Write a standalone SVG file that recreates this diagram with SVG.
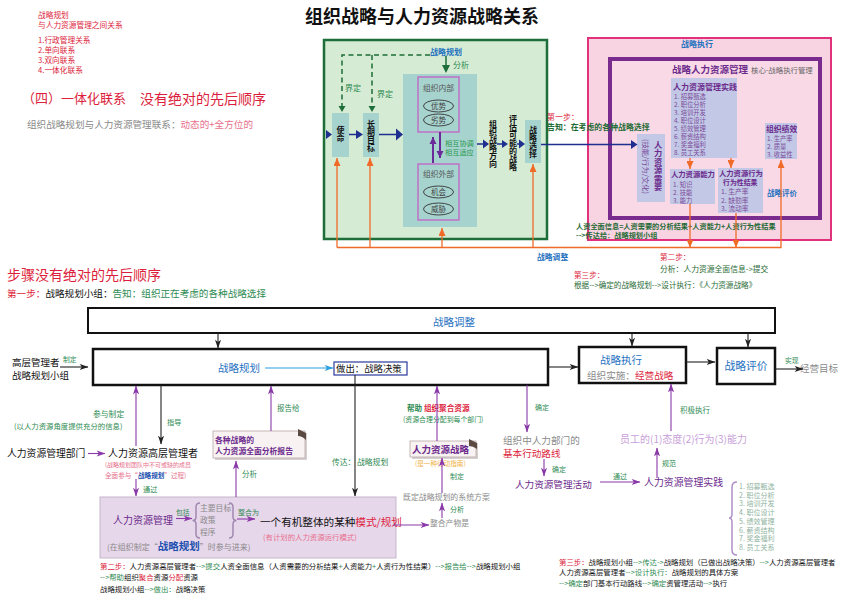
<svg xmlns="http://www.w3.org/2000/svg" width="842" height="595" viewBox="0 0 842 595">
<defs>
<style>
text{font-family:"Noto Sans CJK SC","Noto Sans",sans-serif;}
.red{fill:#dc1e3c}
.grn{fill:#2d8a52}
.dg{fill:#1f6b35}
.blu{fill:#1f72bf}
.pur{fill:#6b2a8c}
.lp{fill:#7a4a9a}
.gry{fill:#8a8a8a}
.blk{fill:#111}
.pk{fill:#e8708c}
.b{font-weight:bold}
.nb{font-weight:normal}
.vt{writing-mode:tb;text-anchor:middle}
.teal{fill:#a7d3cf}
.bg{fill:#c2c8e6}
.nv{fill:#1f2f8f}
.ln{fill:none;stroke-width:1.1}
.lk{stroke:#222}
.lpu{stroke:#8a3aa8}
.lor{stroke:#f06a28;stroke-width:1.3;fill:none}
.lnv{stroke:#1f2f8f;stroke-width:1.5;fill:none}
</style>
<marker id="aK" viewBox="0 0 10 8" refX="9.5" refY="4" markerWidth="10" markerHeight="7" orient="auto" markerUnits="userSpaceOnUse"><path d="M0,0.5 L10,4 L0,7.5 L2.5,4z" fill="#222"/></marker>
<marker id="aP" viewBox="0 0 10 8" refX="9.5" refY="4" markerWidth="10" markerHeight="7" orient="auto" markerUnits="userSpaceOnUse"><path d="M0,0.5 L10,4 L0,7.5 L2.5,4z" fill="#8a3aa8"/></marker>
<marker id="aB" viewBox="0 0 10 8" refX="9.5" refY="4" markerWidth="10" markerHeight="7" orient="auto" markerUnits="userSpaceOnUse"><path d="M0,0.5 L10,4 L0,7.5 L2.5,4z" fill="#2aa0e0"/></marker>
<marker id="aO" viewBox="0 0 8 7" refX="8" refY="3.5" markerWidth="8" markerHeight="7" orient="auto" markerUnits="userSpaceOnUse"><path d="M0,0 L8,3.5 L0,7z" fill="#f06a28"/></marker>
<marker id="aV" viewBox="0 0 8 8" refX="8" refY="4" markerWidth="7" markerHeight="8" orient="auto" markerUnits="userSpaceOnUse"><path d="M0,0 L8,4 L0,8z" fill="#6a2a9a"/></marker>
</defs>
<rect width="842" height="595" fill="#fff"/>

<text id="title" x="422" y="23" text-anchor="middle" font-size="18" font-weight="bold" fill="#111">组织战略与人力资源战略关系</text>

<g id="intro">
<text font-size="7.7" class="red"><tspan x="38" y="18">战略规划</tspan><tspan x="38" y="28">与人力资源管理之间关系</tspan><tspan x="38" y="43">1.行政管理关系</tspan><tspan x="38" y="53">2.单向联系</tspan><tspan x="38" y="63">3.双向联系</tspan><tspan x="38" y="73">4.一体化联系</tspan></text>
<text x="22" y="103" font-size="13" class="red">（四）一体化联系</text>
<text x="140" y="104" font-size="14" class="red">没有绝对的先后顺序</text>
<text x="27" y="128" font-size="9.6" class="gry">组织战略规划与人力资源管理联系：<tspan class="pk">动态的+全方位的</tspan></text>
</g>

<g id="org-strategy">
<rect x="324" y="40" width="223" height="199" fill="#d5ebd3" stroke="#1e6e3a" stroke-width="2.5"/>
<text x="446" y="54.5" text-anchor="middle" font-size="8" class="blu b">战略规划</text>
<text x="453" y="68" font-size="8" class="grn">分析</text>
<text x="345" y="91" font-size="8" class="grn">界定</text>
<text x="377" y="97" font-size="8" class="grn">界定</text>
</g>
<g id="mission">
<rect x="332" y="113" width="17" height="44" class="teal"/>
<text x="340.5" y="133.5" font-size="8" class="vt blk b">使命</text>
</g>
<g id="long-goal">
<rect x="363" y="113" width="16" height="44" class="teal"/>
<text x="371" y="136" font-size="8" class="vt blk b">长期目标</text>
</g>
<g id="swot">
<rect x="403" y="74" width="74" height="153" class="teal"/>
<rect x="418" y="77" width="41" height="55" class="teal" stroke="#c070c8" stroke-width="1.5"/>
<text x="438.5" y="91" text-anchor="middle" font-size="7.8" fill="#555">组织内部</text>
<ellipse cx="438.5" cy="106" rx="15" ry="6" fill="none" stroke="#333" stroke-width="0.9"/>
<text x="438.5" y="108.7" text-anchor="middle" font-size="7.5" fill="#444">优势</text>
<ellipse cx="438.5" cy="120" rx="15" ry="6" fill="none" stroke="#333" stroke-width="0.9"/>
<text x="438.5" y="122.7" text-anchor="middle" font-size="7.5" fill="#444">劣势</text>
<rect x="418" y="164" width="41" height="56" class="teal" stroke="#c070c8" stroke-width="1.5"/>
<text x="438.5" y="177" text-anchor="middle" font-size="7.8" fill="#555">组织外部</text>
<ellipse cx="438.5" cy="192" rx="15" ry="6" fill="none" stroke="#333" stroke-width="0.9"/>
<text x="438.5" y="194.7" text-anchor="middle" font-size="7.5" fill="#444">机会</text>
<ellipse cx="438.5" cy="209" rx="15" ry="6" fill="none" stroke="#333" stroke-width="0.9"/>
<text x="438.5" y="211.7" text-anchor="middle" font-size="7.5" fill="#444">威胁</text>
<text font-size="7.2" fill="#2a9a50"><tspan x="445" y="146">相互协调</tspan><tspan x="445" y="155">相互适应</tspan></text>
</g>
<g id="direction">
<text x="493" y="144" font-size="8" class="vt blk b">组织战略方向</text>
</g>
<g id="evaluate">
<text x="513" y="143" font-size="8" class="vt blk b">评估可能的战略</text>
</g>
<g id="choice">
<rect x="525" y="120" width="16" height="43" class="teal"/>
<text x="533" y="142" font-size="8" class="vt blk b">战略选择</text>
</g>

<g id="strategy-exec">
<rect x="588" y="38" width="243" height="202" fill="#f8d3e2" stroke="#e2317c" stroke-width="2"/>
<text x="697" y="47" text-anchor="middle" font-size="8" class="blu b">战略执行</text>
<rect x="610" y="59" width="210" height="159" fill="#f9d9e6" stroke="#7a2c8e" stroke-width="4"/>
<text x="672" y="73" font-size="9.5" class="pur b">战略人力资源管理</text>
<text x="751" y="73" font-size="7.4" fill="#666">核心-战略执行管理</text>
<text x="767" y="196" font-size="7.5" class="blu b">战略评价</text>
<text font-size="7.2" class="dg b"><tspan x="576" y="229">人资全面信息=人资需要的分析结果+人资能力+人资行为性结果</tspan><tspan x="576" y="238">--&gt;传达给：战略规划小组</tspan></text>
<text font-size="8"><tspan x="547" y="120" class="red">第一步：</tspan><tspan x="547" y="130" class="dg b" font-size="7.9">告知：在考虑的各种战略选择</tspan></text>
</g>
<g id="hr-practice">
<rect x="671" y="78" width="66" height="80" class="bg"/>
<text font-size="6.3" class="lp"><tspan x="673" y="90" font-size="8" class="pur b">人力资源管理实践</tspan><tspan x="674" y="99">1. 招募甄选</tspan><tspan x="674" y="107">2. 职位分析</tspan><tspan x="674" y="115">3. 培训开发</tspan><tspan x="674" y="123">4. 职位设计</tspan><tspan x="674" y="131">5. 绩效管理</tspan><tspan x="674" y="139">6. 薪资结构</tspan><tspan x="674" y="147">7. 奖金福利</tspan><tspan x="674" y="155">8. 员工关系</tspan></text>
</g>
<g id="hr-needs">
<rect x="637" y="134" width="28" height="68" class="bg"/>
<text x="658" y="166" font-size="8.2" letter-spacing="0.3" class="vt pur b">人力资源需要</text>
<text transform="translate(646,166.5) rotate(90)" y="3" text-anchor="middle" font-size="7.4" class="lp">(技能/行为/文化)</text>
</g>
<g id="hr-ability">
<rect x="670" y="169" width="45" height="35" class="bg"/>
<text font-size="6.3" class="lp"><tspan x="671" y="177" font-size="7.3" class="pur b">人力资源能力</tspan><tspan x="673" y="186.5">1. 知识</tspan><tspan x="673" y="194.5">2. 技能</tspan><tspan x="673" y="202.5">3. 能力</tspan></text>
</g>
<g id="hr-behavior">
<rect x="718" y="168" width="45" height="45" class="bg"/>
<text font-size="6.8" class="lp"><tspan x="719" y="176" font-size="7.3" class="pur b">人力资源行为</tspan><tspan x="723" y="185" font-size="6.9" class="pur b">行为性结果</tspan><tspan x="721" y="194">1. 生产率</tspan><tspan x="721" y="202.5">2. 缺勤率</tspan><tspan x="721" y="211">3. 流动率</tspan></text>
</g>
<g id="org-perf">
<rect x="765" y="123" width="32" height="36" class="bg"/>
<text font-size="6.3" class="lp"><tspan x="766" y="131.5" font-size="7.8" class="pur b">组织绩效</tspan><tspan x="767" y="140.5">1. 生产率</tspan><tspan x="767" y="148.5">2. 质量</tspan><tspan x="767" y="156.5">3. 收益性</tspan></text>
</g>

<g id="steps-top">
<text x="537" y="260" font-size="7.8" class="blu b">战略调整</text>
<text font-size="7.6"><tspan x="660" y="260" class="red">第二步：</tspan><tspan x="660" y="272" class="dg" font-size="7.8">分析：人力资源全面信息-&gt;提交</tspan></text>
<text font-size="7.6"><tspan x="574" y="278" class="red">第三步：</tspan><tspan x="574" y="288" class="dg">根据--&gt;确定的战略规划--&gt;设计执行：《人力资源战略》</tspan></text>
<text x="7" y="280" font-size="14" class="red">步骤没有绝对的先后顺序</text>
<text x="7" y="297" font-size="9.6"><tspan class="red">第一步：</tspan><tspan class="blk">战略规划小组：</tspan><tspan class="grn">告知：组织正在考虑的各种战略选择</tspan></text>
</g>

<g id="adjust">
<rect x="88" y="308" width="687" height="25" fill="#fff" stroke="#111" stroke-width="2"/>
<text x="433" y="326" font-size="10.5" class="blu">战略调整</text>
</g>
<g id="planning">
<rect x="93" y="349" width="455" height="36" fill="#fff" stroke="#111" stroke-width="2.5"/>
<text x="218" y="372" font-size="10.5" class="blu">战略规划</text>
</g>
<g id="decision">
<rect x="334" y="362" width="73" height="13" fill="#fff" stroke="#2a3a9a" stroke-width="1.2"/>
<text x="336" y="372" font-size="9.4" class="blk">做出：战略决策</text>
</g>
<g id="execution">
<rect x="579" y="347" width="107" height="36" fill="#fff" stroke="#111" stroke-width="2.5"/>
<text font-size="10.5"><tspan x="600" y="364" class="blu">战略执行</tspan><tspan x="587" y="378.5" font-size="9.6" class="gry">组织实施：</tspan><tspan font-size="9.6" class="red">经营战略</tspan></text>
</g>
<g id="evaluation">
<rect x="717" y="348" width="58" height="36" fill="#fff" stroke="#111" stroke-width="2.5"/>
<text x="746" y="369.5" text-anchor="middle" font-size="10.8" class="blu">战略评价</text>
</g>
<g id="top-mgmt">
<text font-size="9.5" class="blk"><tspan x="12" y="366">高层管理者</tspan><tspan x="12" y="379">战略规划小组</tspan></text>
<text x="63" y="362" font-size="6.8" class="grn">制定</text>
</g>
<g id="goal">
<text x="785" y="363" font-size="6.8" class="grn">实现</text>
<text x="800" y="371.5" font-size="9.5" class="gry">经营目标</text>
</g>

<g id="hr-dept">
<text x="7" y="457" font-size="9.8" class="blk">人力资源管理部门</text>
</g>
<g id="hr-senior">
<text font-size="10" class="blk"><tspan x="108" y="457">人力资源高层管理者</tspan><tspan x="105" y="467" font-size="6" class="pk">(战略规划团队中不可或缺的成员</tspan><tspan x="105" y="477.5" font-size="6.6" class="pk">全面参与“</tspan><tspan font-size="6.6" fill="#2050b0" font-weight="bold">战略规划</tspan><tspan font-size="6.6" class="pk">”过程)</tspan></text>
</g>
<g id="labels-left">
<text font-size="7.8" class="grn"><tspan x="93" y="417">参与制定</tspan><tspan x="14" y="429" font-size="7.4">(以人力资源角度提供充分的信息)</tspan></text>
<text x="167" y="425" font-size="7.2" class="grn">指导</text>
<text x="143" y="492" font-size="7.2" class="grn">通过</text>
<text x="242" y="477" font-size="7.5" class="grn">分析</text>
<text x="277" y="411" font-size="7.5" class="grn">报告给</text>
<text x="332" y="465" font-size="7.8" class="grn">传达：</text>
<text x="357" y="465" font-size="7.8" class="grn">战略规划</text>
</g>
<g id="hrm-box">
<rect x="100" y="497" width="296" height="61" fill="#e7d7eb" stroke="#c6b6ca" stroke-width="1"/>
<text x="113" y="524" font-size="10" fill="#6a2a8a">人力资源管理</text>
<text x="176" y="515" font-size="6.8" class="grn">包括</text>
<path d="M200,503 Q196,503 196,507 V517 Q196,520.5 192.5,520.5 Q196,520.5 196,524 V534 Q196,538 200,538" fill="none" stroke="#a088b0" stroke-width="1.5"/>
<text font-size="7.8" class="gry"><tspan x="200" y="511">主要目标</tspan><tspan x="200" y="523">政策</tspan><tspan x="200" y="535">程序</tspan></text>
<path d="M229,503 Q233,503 233,507 V517 Q233,520.5 236.5,520.5 Q233,520.5 233,524 V534 Q233,538 229,538" fill="none" stroke="#a088b0" stroke-width="1.5"/>
<text x="238" y="515" font-size="7" class="grn">整合为</text>
<text font-size="10.6" class="blk"><tspan x="260" y="526">一个有机整体的某种</tspan><tspan class="red">模式/规划</tspan><tspan x="263" y="539.5" font-size="7.4" class="pk">(有计划的人力资源运行模式)</tspan></text>
<text x="107" y="549.5" font-size="8" class="gry">(在组织制定“<tspan fill="#2050b0" font-weight="bold" font-size="10.5">战略规划</tspan>”时参与进来)</text>
</g>
<g id="report-note">
<rect x="215" y="433" width="92" height="27" fill="#d8d0d0"/>
<rect x="213" y="431" width="92" height="27" fill="#f8f2f2" stroke="#b8a8a8" stroke-width="0.8"/>
<path d="M298,429 L306,433 L306,440 Q302,436 298,436 Z" fill="#5a4a42"/>
<text font-size="7.8" class="pur b"><tspan x="215" y="443">各种战略的</tspan><tspan x="215" y="454">人力资源全面分析报告</tspan></text>
</g>
<g id="hr-strategy">
<rect x="412" y="443" width="66" height="16" fill="#d8d0d0"/>
<rect x="410" y="441" width="66" height="16" fill="#f8f2f2" stroke="#b8a8a8" stroke-width="0.8"/>
<path d="M469,439 L477,443 L477,449 Q473,446 469,446 Z" fill="#5a4a42"/>
<text x="412" y="453" font-size="9.5" class="pur b">人力资源战略</text>
<text x="415" y="465.5" font-size="6.6" fill="#f0b040">(是一种行动指南)</text>
</g>
<g id="labels-mid">
<text font-size="7.6" class="b"><tspan x="407" y="411" class="grn">帮助</tspan><tspan class="red"> 组织聚合资源</tspan><tspan x="403" y="422" font-size="6.9" class="grn nb">(资源合理分配到每个部门)</tspan></text>
<text x="450" y="479" font-size="7" class="grn">制定</text>
<text x="403" y="500" font-size="7.9" class="gry">既定战略规划的系统方案</text>
<text x="450" y="512" font-size="7" class="grn">分析</text>
<text x="430" y="526" font-size="7.8" class="gry">整合产物是</text>
<text x="535" y="410" font-size="7" class="grn">确定</text>
</g>
<g id="basic-route">
<text font-size="9.6"><tspan x="503" y="443.5" class="gry">组织中人力部门的</tspan><tspan x="503" y="456.5" class="red">基本行动路线</tspan></text>
<text x="552" y="472" font-size="7" class="grn">确定</text>
</g>
<g id="hr-activity">
<text x="515" y="488" font-size="9.6" class="pur">人力资源管理活动</text>
<text x="613" y="479" font-size="7" class="grn">通过</text>
</g>
<g id="hr-practice-2">
<text x="644" y="486" font-size="9.9" class="pur">人力资源管理实践</text>
<text x="662" y="466" font-size="7" class="grn">规范</text>
<path d="M737,482 Q732,482 732,487 V514 Q732,518 729,518 Q732,518 732,522 V550 Q732,555 737,555" fill="none" stroke="#b090c8" stroke-width="1.5"/>
<text font-size="7" fill="#8fb3a0"><tspan x="739" y="489">1. 招募甄选</tspan><tspan x="739" y="497.7">2. 职位分析</tspan><tspan x="739" y="506.4">3. 培训开发</tspan><tspan x="739" y="515.1">4. 职位设计</tspan><tspan x="739" y="523.8">5. 绩效管理</tspan><tspan x="739" y="532.5">6. 薪资结构</tspan><tspan x="739" y="541.2">7. 奖金福利</tspan><tspan x="739" y="549.9">8. 员工关系</tspan></text>
</g>
<g id="employee">
<text x="620" y="443" font-size="10" fill="#c8a0d8">员工的(1)态度(2)行为(3)能力</text>
<text x="680" y="413" font-size="7.5" class="grn">积极执行</text>
</g>

<g id="steps-bottom" font-size="7.4">
<text><tspan x="100" y="569" class="red">第二步：</tspan><tspan class="blk">人力资源高层管理者</tspan><tspan class="grn">--&gt;提交</tspan><tspan class="blk">人资全面信息（人资需要的分析结果</tspan><tspan class="grn">+</tspan><tspan class="blk">人资能力</tspan><tspan class="grn">+</tspan><tspan class="blk">人资行为性结果）</tspan><tspan class="grn">--&gt;报告给--&gt;</tspan><tspan class="blk">战略规划小组</tspan><tspan x="100" y="580" class="grn">--&gt;帮助</tspan><tspan class="blk">组织</tspan><tspan class="red">聚合</tspan><tspan class="blk">资源</tspan><tspan class="red">分配</tspan><tspan class="blk">资源</tspan><tspan x="100" y="592" class="blk">战略规划小组</tspan><tspan class="grn">--&gt;做出：</tspan><tspan class="blk">战略决策</tspan></text>
<text><tspan x="559" y="565" class="red">第三步：</tspan><tspan class="blk">战略规划小组</tspan><tspan class="grn">--&gt;传达-&gt;</tspan><tspan class="blk">战略规划（已做出战略决策）</tspan><tspan class="grn">--&gt;</tspan><tspan class="blk">人力资源高层管理者</tspan><tspan x="559" y="575" class="blk">人力资源高层管理者</tspan><tspan class="grn">--&gt;设计执行：</tspan><tspan class="blk">战略规划的具体方案</tspan><tspan x="559" y="586" class="grn">--&gt;确定</tspan><tspan class="blk">部门基本行动路线</tspan><tspan class="grn">--&gt;确定</tspan><tspan class="blk">资管理活动</tspan><tspan class="grn">--&gt;</tspan><tspan class="blk">执行</tspan></text>
</g>

<g id="connectors">
<path d="M430,55 H342 V107 M372,55 V107" fill="none" stroke="#1e6e3a" stroke-width="1.5" stroke-dasharray="5,3.5"/>
<polygon points="338.5,106 345.5,106 342,112" fill="#1e6e3a"/>
<polygon points="368.5,106 375.5,106 372,112" fill="#1e6e3a"/>
<line x1="446" y1="56" x2="446" y2="66" stroke="#1e6e3a" stroke-width="1.5"/>
<polygon points="442,65 450,65 446,73" fill="#1e6e3a"/>
<polygon points="326,130 332,134.5 326,139" class="nv"/>
<path d="M349,134.5 H356" class="lnv"/><polygon points="356,130 363,134.5 356,139" class="nv"/>
<path d="M379,134.5 H397" class="lnv"/><polygon points="396,128.5 403,134.5 396,140.5" class="nv"/>
<path d="M477,144 H484" class="lnv"/><polygon points="483,139.5 489,144 483,148.5" class="nv"/>
<path d="M497,144 H503" class="lnv"/><polygon points="502,140 508,144 502,148" class="nv"/>
<path d="M517,144 H520" class="lnv"/><polygon points="519,139.5 525,144 519,148.5" class="nv"/>
<path d="M541,144.5 H632" class="lnv"/><polygon points="631,140 637.5,144.5 631,149" class="nv"/>
<line x1="433" y1="163" x2="433" y2="137" stroke="#6a2a9a" stroke-width="2" marker-end="url(#aV)"/>
<line x1="440" y1="132" x2="440" y2="158" stroke="#6a2a9a" stroke-width="2" marker-end="url(#aV)"/>
<path d="M337,247.5 H781 V160" class="lor" marker-end="url(#aO)"/>
<line x1="337" y1="247.5" x2="337" y2="158" class="lor" marker-end="url(#aO)"/>
<line x1="370" y1="247.5" x2="370" y2="158" class="lor" marker-end="url(#aO)"/>
<line x1="442" y1="247.5" x2="442" y2="228" class="lor" marker-end="url(#aO)"/>
<line x1="533" y1="247.5" x2="533" y2="164" class="lor" marker-end="url(#aO)"/>
<line x1="690" y1="204" x2="690" y2="247.5" class="lor" marker-end="url(#aO)"/>
<line x1="736" y1="213" x2="736" y2="247.5" class="lor" marker-end="url(#aO)"/>
<line x1="690" y1="158" x2="690" y2="169" class="lor" marker-end="url(#aO)"/>
<line x1="731" y1="158" x2="731" y2="168" class="lor" marker-end="url(#aO)"/>
<line x1="218" y1="333" x2="218" y2="348" class="ln lk" marker-end="url(#aK)"/>
<line x1="632" y1="333" x2="632" y2="346" class="ln lk" marker-end="url(#aK)"/>
<line x1="748" y1="333" x2="748" y2="347" class="ln lk" marker-end="url(#aK)"/>
<line x1="60" y1="367" x2="88" y2="367" class="ln lk" marker-end="url(#aK)"/>
<line x1="265" y1="368" x2="333" y2="368" fill="none" stroke="#2aa0e0" stroke-width="1.1" marker-end="url(#aB)"/>
<line x1="548" y1="367" x2="578" y2="367" class="ln lk" marker-end="url(#aK)"/>
<line x1="686" y1="362" x2="715" y2="362" class="ln lk" marker-end="url(#aK)"/>
<line x1="775" y1="369" x2="803" y2="369" class="ln lk" marker-end="url(#aK)"/>
<line x1="136" y1="446" x2="136" y2="386" class="ln lpu" marker-end="url(#aP)"/>
<line x1="161" y1="385" x2="161" y2="444" class="ln lk" marker-end="url(#aK)"/>
<line x1="88" y1="453.5" x2="105" y2="453.5" class="ln lpu" marker-end="url(#aP)"/>
<line x1="136" y1="479" x2="136" y2="496" class="ln lpu" marker-end="url(#aP)"/>
<line x1="176" y1="518.5" x2="192" y2="518.5" class="ln lpu" marker-end="url(#aP)"/>
<line x1="237" y1="519" x2="255" y2="519" class="ln lpu" marker-end="url(#aP)"/>
<line x1="236" y1="497" x2="236" y2="461" class="ln lpu" marker-end="url(#aP)"/>
<line x1="271" y1="431" x2="271" y2="386" class="ln lpu" marker-end="url(#aP)"/>
<line x1="355" y1="375" x2="355" y2="496" class="ln lk" marker-end="url(#aK)"/>
<line x1="393" y1="525" x2="429" y2="525" class="ln lpu" marker-end="url(#aP)"/>
<line x1="442" y1="518" x2="442" y2="503" class="ln lpu" marker-end="url(#aP)"/>
<line x1="442" y1="493" x2="442" y2="458" class="ln lpu" marker-end="url(#aP)"/>
<line x1="437" y1="441" x2="437" y2="386" class="ln lpu" marker-end="url(#aP)"/>
<line x1="527" y1="385" x2="527" y2="432" class="ln lpu" marker-end="url(#aP)"/>
<line x1="544" y1="459" x2="544" y2="476" class="ln lpu" marker-end="url(#aP)"/>
<line x1="600" y1="482" x2="640" y2="482" class="ln lpu" marker-end="url(#aP)"/>
<line x1="657" y1="478" x2="657" y2="448" class="ln lpu" marker-end="url(#aP)"/>
<line x1="671" y1="431" x2="671" y2="384" class="ln lpu" marker-end="url(#aP)"/>
</g>
</svg>
